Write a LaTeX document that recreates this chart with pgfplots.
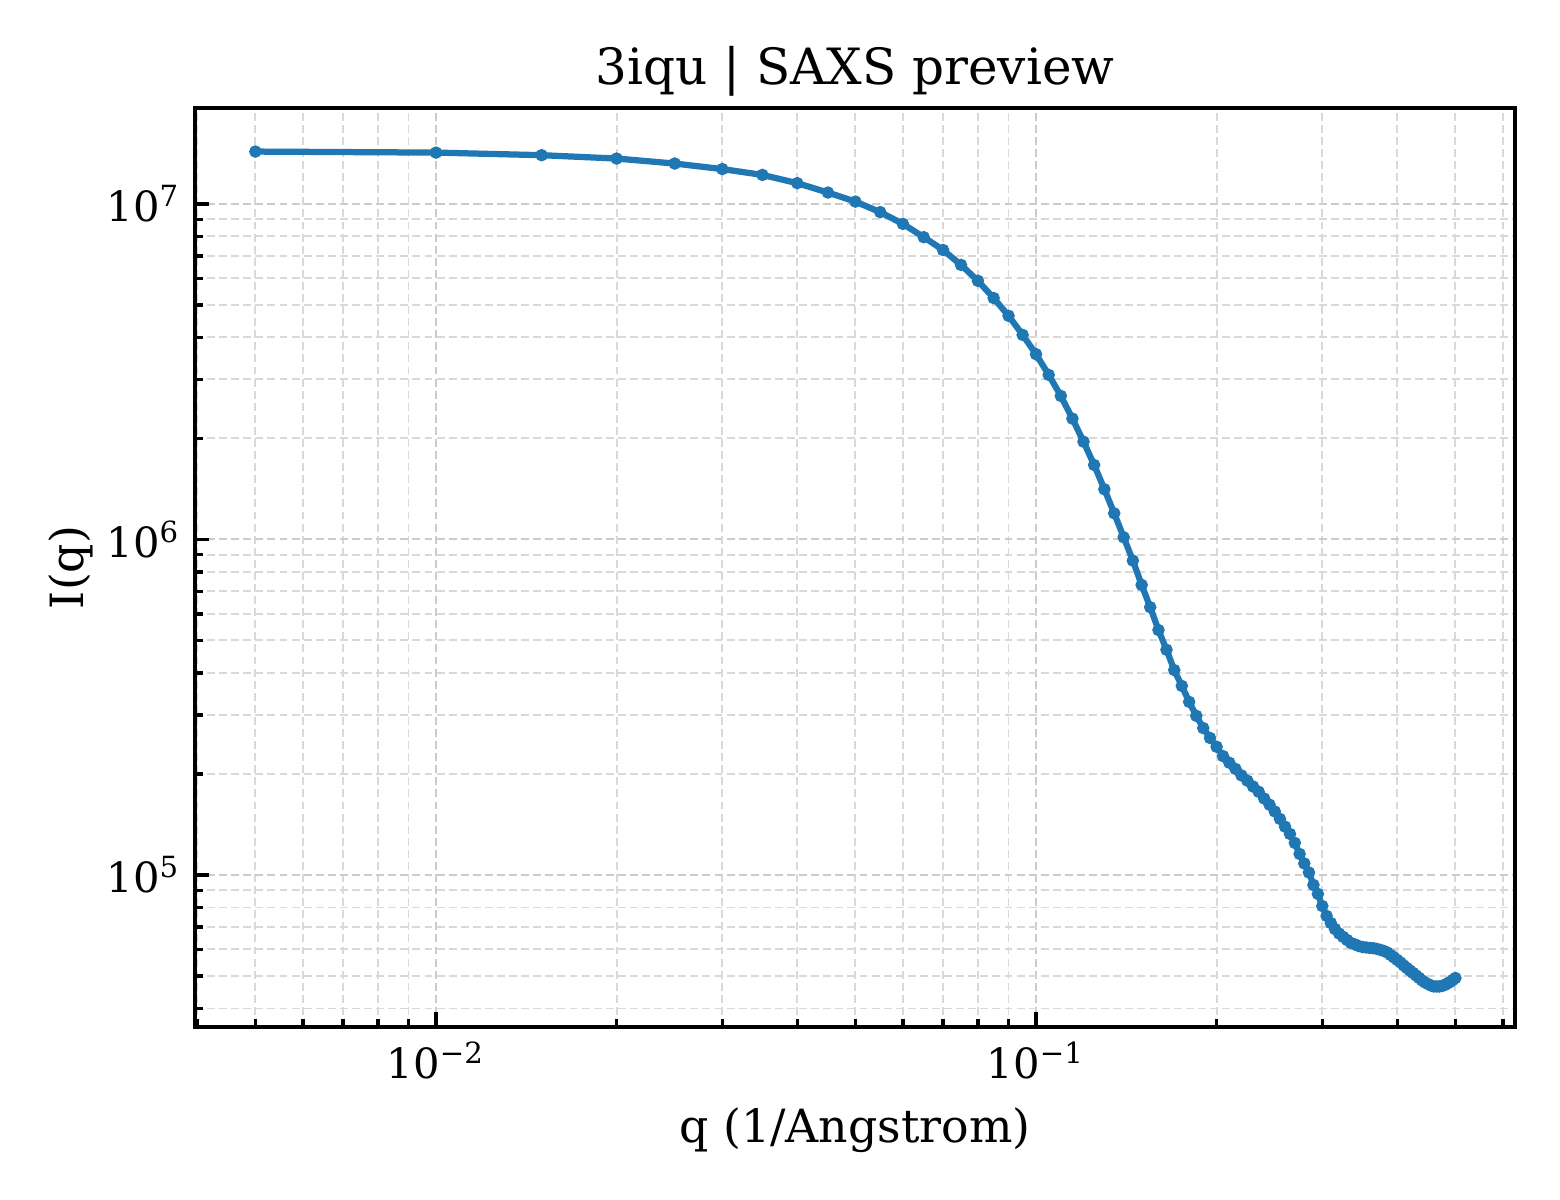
\documentclass[border=0pt]{standalone}
\usepackage{fontspec}
\setmainfont{DejaVu Serif}
\usepackage{pgfplots}
\pgfplotsset{compat=1.18}

\definecolor{mplblue}{HTML}{1F77B4}

\begin{document}
\begin{tikzpicture}
% page = 1560x1200 px at 300 dpi; axis box starts at (0,0)
\path[use as bounding box] (-46.8pt,-41.52pt) rectangle (327.6pt,246.48pt);
\begin{axis}[
    scale only axis,
    width=316.8pt,
    height=220.56pt,
    xmode=log, ymode=log,
    xmin=0.003966, xmax=0.6285,
    ymin=35237, ymax=1.9321e7,
    title={3iqu | SAXS preview},
    xlabel={q (1/Angstrom)},
    ylabel={I(q)},
    title style={font=\fontsize{12}{14}\selectfont, yshift=-6.7pt},
    label style={font=\fontsize{11}{13}\selectfont},
    ylabel shift=-3.6pt,
    tick label style={font=\fontsize{10}{12}\selectfont},
    xtick={0.01,0.1},
    xticklabels={10\textsuperscript{−2},10\textsuperscript{−1}},
    minor xtick={0.004,0.005,0.006,0.007,0.008,0.009,0.02,0.03,0.04,0.05,0.06,0.07,0.08,0.09,0.2,0.3,0.4,0.5,0.6},
    ytick={1e5,1e6,1e7},
    yticklabels={10\textsuperscript{5},10\textsuperscript{6},10\textsuperscript{7}},
    minor ytick={4e4,5e4,6e4,7e4,8e4,9e4,2e5,3e5,4e5,5e5,6e5,7e5,8e5,9e5,2e6,3e6,4e6,5e6,6e6,7e6,8e6,9e6},
    tick align=inside,
    xtick pos=bottom, ytick pos=left,
    major tick length=3.5pt,
    minor tick length=2pt,
    every tick/.style={black, line width=0.8pt},
    axis line style={line width=1pt},
    grid=both,
    major grid style={gray!40, line width=0.5pt, dash pattern=on 1.9pt off 1pt},
    minor grid style={gray!30, line width=0.45pt, dash pattern=on 1.9pt off 1pt},
]
\addplot[color=mplblue, line width=1.5pt, mark=*, mark size=1.3pt,
    mark options={solid, fill=mplblue, draw=mplblue, line width=0.4pt}] coordinates {
(0.005,1.432e7) (0.010,1.422e7) (0.015,1.397e7) (0.020,1.365e7)
(0.025,1.319e7) (0.030,1.270e7) (0.035,1.220e7) (0.040,1.153e7)
(0.045,1.081e7) (0.050,1.016e7) (0.055,9.45e6) (0.060,8.72e6)
(0.065,7.96e6) (0.070,7.29e6) (0.075,6.58e6) (0.080,5.90e6)
(0.085,5.24e6) (0.090,4.64e6) (0.095,4.07e6) (0.100,3.565e6)
(0.105,3.093e6) (0.110,2.677e6) (0.115,2.291e6) (0.120,1.956e6)
(0.125,1.667e6) (0.130,1.411e6) (0.135,1.196e6) (0.140,1.015e6)
(0.145,8.65e5) (0.150,7.32e5) (0.155,6.28e5) (0.160,5.37e5)
(0.165,4.69e5) (0.170,4.08e5) (0.175,3.66e5) (0.180,3.28e5)
(0.185,2.98e5) (0.190,2.74e5) (0.195,2.56e5) (0.200,2.41e5)
(0.205,2.26e5) (0.210,2.16e5) (0.215,2.07e5) (0.220,1.98e5)
(0.225,1.91e5) (0.230,1.835e5) (0.235,1.77e5) (0.240,1.69e5)
(0.245,1.62e5) (0.250,1.546e5) (0.255,1.469e5) (0.260,1.393e5)
(0.265,1.325e5) (0.270,1.246e5) (0.275,1.155e5) (0.280,1.082e5)
(0.285,1.017e5) (0.290,9.34e4) (0.295,8.78e4) (0.300,8.08e4)
(0.305,7.55e4) (0.310,7.19e4) (0.315,6.90e4) (0.320,6.69e4)
(0.325,6.54e4) (0.330,6.40e4) (0.335,6.27e4) (0.340,6.21e4)
(0.345,6.14e4) (0.350,6.10e4) (0.355,6.08e4) (0.360,6.06e4)
(0.365,6.05e4) (0.370,6.02e4) (0.375,5.98e4) (0.380,5.935e4)
(0.385,5.875e4) (0.390,5.775e4) (0.395,5.68e4) (0.400,5.58e4)
(0.405,5.486e4) (0.410,5.375e4) (0.415,5.28e4) (0.420,5.19e4)
(0.425,5.105e4) (0.430,5.017e4) (0.435,4.932e4) (0.440,4.848e4)
(0.445,4.782e4) (0.450,4.732e4) (0.455,4.684e4) (0.460,4.655e4)
(0.465,4.652e4) (0.470,4.652e4) (0.475,4.668e4) (0.480,4.70e4)
(0.485,4.75e4) (0.490,4.80e4) (0.495,4.865e4) (0.500,4.93e4)
};
\end{axis}
\end{tikzpicture}
\end{document}
